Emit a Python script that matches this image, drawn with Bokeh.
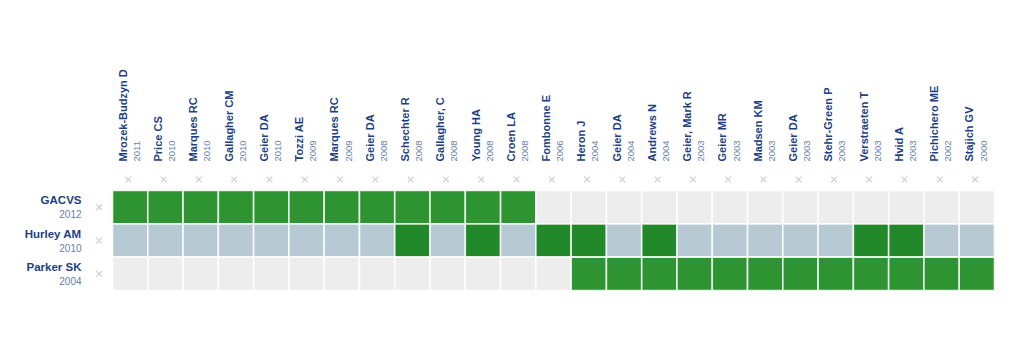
import math
from bokeh.plotting import figure
from bokeh.models import ColumnDataSource, Range1d
from bokeh.core.properties import value
from bokeh.embed import file_html
from bokeh.resources import INLINE

# ---- data ----
study_authors = ["Mrozek-Budzyn D", "Price CS", "Marques RC", "Gallagher CM", "Geier DA",
                 "Tozzi AE", "Marques RC", "Geier DA", "Schechter R", "Gallagher, C",
                 "Young HA", "Croen LA", "Fombonne E", "Heron J", "Geier DA",
                 "Andrews N", "Geier, Mark R", "Geier MR", "Madsen KM", "Geier DA",
                 "Stehr-Green P", "Verstraeten T", "Hvid A", "Pichichero ME", "Stajich GV"]
study_years = ["2011", "2010", "2010", "2010", "2010",
               "2009", "2009", "2008", "2008", "2008",
               "2008", "2008", "2006", "2004", "2004",
               "2004", "2003", "2003", "2003", "2003",
               "2003", "2003", "2003", "2002", "2000"]
review_names = ["GACVS", "Hurley AM", "Parker SK"]
review_years = ["2012", "2010", "2004"]
included_gacvs = [1, 1, 1, 1, 1, 1, 1, 1, 1, 1, 1, 1, 0, 0, 0, 0, 0, 0, 0, 0, 0, 0, 0, 0, 0]
included_hurley = [0, 0, 0, 0, 0, 0, 0, 0, 1, 0, 1, 0, 1, 1, 0, 1, 0, 0, 0, 0, 0, 1, 1, 0, 0]
included_parker = [0, 0, 0, 0, 0, 0, 0, 0, 0, 0, 0, 0, 0, 1, 1, 1, 1, 1, 1, 1, 1, 1, 1, 1, 1]
inclusion = [included_gacvs, included_hurley, included_parker]

# ---- styles ----
row_bg = ["#ededed", "#b7cad4", "#ededed"]
row_hit = ["#2e9432", "#22892a", "#2e9432"]
name_color = "#1d3f82"
year_color = "#6680a8"
mark_color = "#cfcfcf"
font = value("Liberation Sans")

n_cols = len(study_authors)
n_rows = len(review_names)

W, H = 1020, 351
grid_left_px, grid_right_px = 112, 994
grid_top_px, grid_bottom_px = 190, 290
cw = (grid_right_px - grid_left_px) / n_cols
rh = (grid_bottom_px - grid_top_px) / n_rows

p = figure(width=W, height=H, output_backend="svg", toolbar_location=None,
           min_border=0, min_border_left=0, min_border_right=0,
           min_border_top=0, min_border_bottom=0)
p.x_range = Range1d(-grid_left_px / cw, (W - grid_left_px) / cw)
p.y_range = Range1d(-(H - grid_bottom_px) / rh, grid_bottom_px / rh)
p.axis.visible = False
p.grid.visible = False
p.outline_line_color = None
p.background_fill_color = "white"
p.border_fill_color = "white"

# cells
xs, ys, cols = [], [], []
for r in range(n_rows):
    for c in range(n_cols):
        xs.append(c + 0.5)
        ys.append(n_rows - r - 0.5)
        cols.append(row_hit[r] if inclusion[r][c] else row_bg[r])
cells = ColumnDataSource(dict(x=xs, y=ys, color=cols))
p.rect(x="x", y="y", width=1, height=1, source=cells, fill_color="color",
       line_color="white", line_width=1.6, line_alpha=0.85)

# column labels
cx = [c for c in range(n_cols)]
col_src = ColumnDataSource(dict(xn=[c + 0.29 for c in cx], xy=[c + 0.69 for c in cx],
                                y=[n_rows] * n_cols, name=study_authors, year=study_years))
p.text(x="xn", y="y", text="name", source=col_src, angle=math.pi / 2,
       text_align="left", text_baseline="middle", y_offset=-29,
       text_font=font, text_font_style="bold", text_font_size="11px",
       text_color=name_color)
p.text(x="xy", y="y", text="year", source=col_src, angle=math.pi / 2,
       text_align="left", text_baseline="middle", y_offset=-29,
       text_font=font, text_font_size="9.5px", text_color=year_color)

# column markers
p.scatter(x=[c + 0.45 for c in cx], y=[n_rows + 11 / rh] * n_cols, marker="x",
          size=8, line_color=mark_color, line_width=1.2)

# row labels
ry = [n_rows - r - 0.5 for r in range(n_rows)]
row_src = ColumnDataSource(dict(x=[0] * n_rows, y=ry, name=review_names, year=review_years))
p.text(x="x", y="y", text="name", source=row_src, x_offset=-31, y_offset=-7,
       text_align="right", text_baseline="middle",
       text_font=font, text_font_style="bold", text_font_size="11.5px",
       text_color=name_color)
p.text(x="x", y="y", text="year", source=row_src, x_offset=-31, y_offset=7,
       text_align="right", text_baseline="middle",
       text_font=font, text_font_size="10px", text_color=year_color)

# row markers
p.scatter(x=[-13.3 / cw] * n_rows, y=ry, marker="x", size=8,
          line_color=mark_color, line_width=1.2)

open("out.html", "w").write(file_html(p, INLINE))
